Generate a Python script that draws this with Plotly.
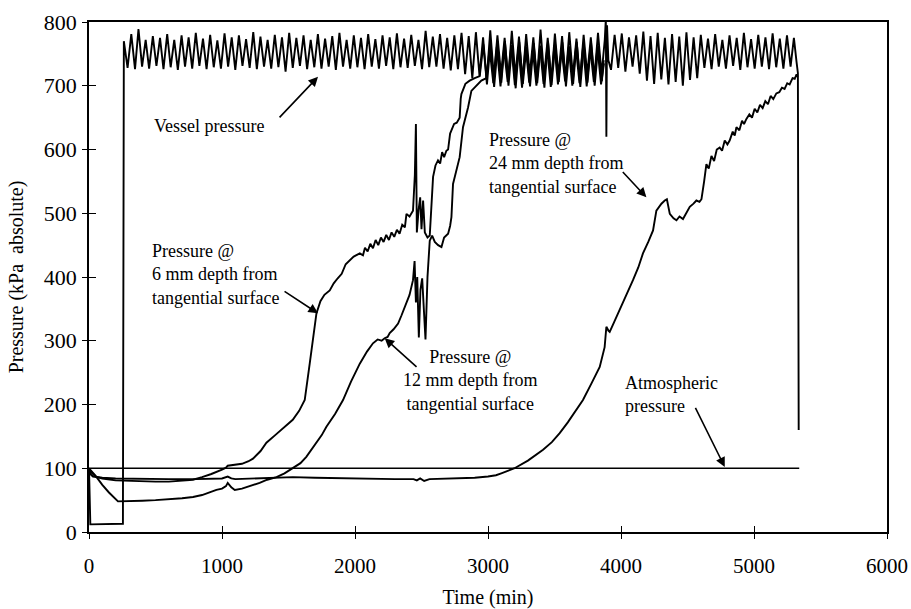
import plotly.graph_objects as go

# ---------------- data (time in min, pressure in kPa absolute) ----------------
vessel_t = [0, 10, 255, 262,
            290, 318, 346, 372, 399, 426, 452, 480, 507, 534, 560, 588, 614, 641, 668, 696,
            722, 749, 776, 803, 830, 857, 884, 911, 938, 965, 992, 1019, 1046, 1073, 1100,
            1127, 1154, 1181, 1208, 1235, 1262, 1289, 1316, 1343, 1370, 1397, 1424, 1451,
            1478, 1505, 1532, 1559, 1586, 1613, 1640, 1667, 1694, 1721, 1748, 1775, 1802,
            1829, 1856, 1883, 1910, 1937, 1964, 1991, 2018, 2045, 2072, 2099, 2126, 2153,
            2180, 2207, 2234, 2261, 2288, 2315, 2342, 2369, 2396, 2423, 2450, 2477, 2504,
            2531, 2558, 2585, 2612, 2639, 2666, 2693, 2720, 2747, 2774, 2801,
            2828, 2855, 2882, 2909, 2936, 2963, 2990, 3017, 3044, 3071, 3098, 3125, 3152,
            3179, 3206, 3233, 3260, 3287, 3314, 3341, 3368, 3395, 3422, 3449, 3476, 3503,
            3530, 3557, 3584, 3611, 3638, 3665, 3692, 3719, 3746, 3773, 3800, 3827, 3854,
            3878, 3886, 3890, 3895, 3905, 3925, 3952, 3979, 4006, 4033, 4060, 4087, 4114,
            4141, 4168, 4195, 4222, 4249, 4276, 4303, 4330, 4357, 4384, 4411, 4438, 4465,
            4492, 4519, 4546, 4573, 4600, 4627, 4654, 4681, 4708, 4735, 4762, 4789, 4816,
            4843, 4870, 4897, 4924, 4951, 4978, 5005, 5032, 5059, 5086, 5113, 5140, 5167,
            5194, 5221, 5248, 5275, 5300, 5320, 5330, 5336]
vessel_p = [100, 12, 13, 770,
            728, 781, 726, 789, 730, 772, 727, 778, 731, 775, 726, 781, 729, 772, 725, 779,
            730, 776, 727, 783, 731, 774, 726, 780, 729, 771, 727, 782, 730, 776, 725,
            779, 731, 773, 728, 784, 726, 777, 730, 772, 727, 780, 729, 776,
            722, 783, 728, 775, 731, 779, 726, 772, 729, 781, 727, 774, 730,
            778, 725, 783, 730, 772, 727, 779, 729, 775, 726, 781, 730, 773,
            727, 779, 731, 776, 726, 782, 729, 774, 728, 780, 731, 772, 726,
            786, 729, 777, 730, 781, 727, 775, 724, 779, 726, 783,
            718, 778, 712, 784, 716, 776, 709, 787, 714, 779, 718, 775, 711,
            786, 715, 777, 708, 781, 717, 776, 710, 788, 714, 775, 707, 782,
            716, 778, 710, 784, 715, 774, 709, 780, 717, 776, 712, 783, 718,
            772, 805, 620, 795, 740, 725, 780, 728, 782, 722, 776, 730, 779,
            719, 785, 708, 778, 703, 783, 710, 775, 702, 781, 706, 777, 700,
            784, 709, 776, 712, 780, 728, 774, 726, 781, 730, 772, 727, 779,
            731, 775, 725, 783, 729, 773, 727, 780, 730, 776, 726, 782, 729,
            774, 727, 779, 730, 775, 737, 720, 160]

d6_t = [0, 20, 50, 100, 200, 300, 400, 500, 600, 700, 782, 850, 920, 1000, 1030, 1043,
        1100, 1150, 1200, 1233, 1290, 1334, 1400, 1470, 1532, 1580, 1622, 1660, 1690,
        1710, 1740, 1770, 1810, 1840, 1870, 1900, 1930, 1960, 1990, 2036, 2060, 2075,
        2095, 2115, 2135, 2155, 2175, 2195, 2215, 2235, 2255, 2275, 2295, 2315, 2335,
        2355, 2375, 2387, 2410, 2436, 2450, 2458, 2465, 2478, 2490, 2500, 2512, 2525,
        2545, 2562, 2575, 2587, 2605, 2624, 2640, 2655, 2670, 2687, 2700, 2715, 2725,
        2745, 2765, 2787, 2795, 2800, 2830, 2862, 2900, 2938,
        2965, 2992, 3019, 3046, 3073, 3100, 3127, 3154, 3181, 3208, 3235, 3262, 3289,
        3316, 3343, 3370, 3397, 3424, 3451, 3478, 3505, 3532, 3559, 3586, 3613, 3640,
        3667, 3694, 3721, 3748, 3775, 3802, 3829, 3856, 3870]
d6_p = [100, 93, 87, 84, 81, 80, 79, 79, 79, 80, 82, 86, 91, 98, 101, 104,
        105, 107, 111, 115, 127, 140, 152, 165, 176, 190, 207, 265, 315,
        343, 362, 372, 379, 390, 398, 405, 420, 426, 432, 437, 434, 446,
        440, 452, 445, 458, 450, 462, 455, 466, 458, 470, 463, 474, 468,
        482, 478, 499, 495, 504, 560, 640, 470, 505, 525, 475, 520, 470,
        462, 465, 520, 557, 575, 583, 578, 596, 588, 598, 600, 625, 630,
        640, 642, 650, 680, 687, 703, 708, 712, 715,
        765, 702, 768, 698, 762, 705, 770, 700, 764, 696, 769, 703, 761,
        699, 767, 704, 763, 697, 770, 701, 765, 706, 768, 699, 762, 703,
        769, 698, 764, 705, 767, 700, 763, 707, 740]

d12_t = [0, 50, 100, 150, 218, 300, 400, 500, 600, 700, 782, 850, 958, 1000, 1030,
         1043, 1070, 1096, 1150, 1200, 1283, 1340, 1410, 1470, 1532, 1590, 1634, 1670,
         1710, 1750, 1785, 1850, 1910, 1970, 2036, 2090, 2135, 2170, 2200, 2223, 2245,
         2261, 2290, 2324, 2350, 2387, 2410, 2436, 2448, 2458, 2468, 2480, 2492, 2505,
         2518, 2530, 2545, 2562, 2580, 2600, 2625, 2650, 2670, 2700, 2715, 2725, 2737,
         2760, 2787, 2812, 2830, 2850, 2875, 2910, 2950, 2988,
         3012, 3040, 3066, 3094, 3120, 3148, 3175, 3202, 3229, 3256, 3283, 3310, 3337,
         3364, 3391, 3418, 3445, 3472, 3499, 3526, 3553, 3580, 3607, 3634, 3661, 3688,
         3715, 3742, 3769, 3796, 3823, 3850, 3872]
d12_p = [100, 88, 74, 62, 48, 48, 49, 50, 51, 53, 55, 58, 66, 68, 72,
         77, 70, 66, 68, 71, 77, 82, 86, 92, 100, 108, 118, 128,
         140, 152, 165, 185, 207, 236, 264, 283, 296, 302, 300, 304, 306,
         312, 318, 327, 340, 358, 372, 395, 425, 360, 400, 305, 380, 398,
         340, 302, 400, 457, 465, 455, 450, 447, 462, 468, 480, 494, 546,
         566, 588, 635, 650, 666, 692, 700, 708, 712,
         758, 704, 761, 699, 757, 706, 763, 701, 759, 697, 762, 705, 756,
         700, 760, 703, 758, 698, 763, 702, 757, 707, 761, 700, 759, 704,
         762, 699, 758, 706, 760, 702, 735]

d24_t = [0, 15, 30, 60, 100, 200, 400, 600, 800, 1000, 1043, 1070, 1100, 1300, 1532,
         1700, 1900, 2100, 2300, 2440, 2465, 2490, 2520, 2560, 2700, 2900, 3000, 3060,
         3100, 3150, 3200, 3300, 3414, 3480, 3539, 3600, 3665, 3714, 3780, 3840, 3877,
         3890, 3905, 3915, 3950, 3990, 4040, 4090, 4130, 4165, 4205, 4241, 4266, 4290,
         4304, 4329, 4345, 4367, 4395, 4417, 4440, 4466, 4490, 4517, 4545, 4567, 4590,
         4605, 4625, 4642, 4660, 4680, 4700, 4720, 4742, 4760, 4780, 4800, 4817, 4840,
         4855, 4868, 4890, 4910, 4925, 4943, 4965, 4985, 5005, 5025, 5045, 5065, 5085,
         5105, 5125, 5145, 5168, 5190, 5210, 5230, 5250, 5268, 5290, 5306, 5320, 5328]
d24_p = [100, 90, 87, 86, 85, 84, 83, 83, 83, 84, 87, 84, 83, 84, 86,
         85, 84, 83, 83, 83, 81, 84, 80, 83, 84, 85, 87, 89,
         92, 96, 100, 112, 129, 141, 155, 172, 191, 207, 234, 259, 290,
         322, 316, 314, 330, 348, 372, 395, 415, 437, 455, 473, 504, 512,
         515, 520, 522, 499, 492, 489, 495, 491, 500, 510, 515, 520, 518,
         522, 550, 577, 570, 590, 582, 600, 603, 598, 614, 608, 614, 628,
         622, 635, 630, 645, 640, 648, 655, 650, 664, 658, 670, 665, 676,
         671, 684, 679, 688, 690, 697, 695, 704, 702, 712, 711, 718, 714]

atm_t = [0, 5340]
atm_p = [100, 100]

x_ticks = [0, 1000, 2000, 3000, 4000, 5000, 6000]
y_ticks = [0, 100, 200, 300, 400, 500, 600, 700, 800]

FONT = "Liberation Serif, Times New Roman, serif"
line_style = dict(color="black", width=1.9)

fig = go.Figure()
for t, p, nm in [(vessel_t, vessel_p, "Vessel pressure"),
                 (d6_t, d6_p, "6 mm"),
                 (d12_t, d12_p, "12 mm"),
                 (d24_t, d24_p, "24 mm")]:
    fig.add_trace(go.Scatter(x=t, y=p, mode="lines", name=nm, line=line_style,
                             showlegend=False, hoverinfo="skip"))
# atmospheric line on the overlay axes (same ranges) that carry the inner tick marks
fig.add_trace(go.Scatter(x=atm_t, y=atm_p, mode="lines", name="Atmospheric",
                         line=dict(color="black", width=1.7), showlegend=False,
                         xaxis="x2", yaxis="y2", hoverinfo="skip"))

axis_common = dict(showgrid=False, zeroline=False, showline=True, linecolor="black",
                   linewidth=1.6, mirror=True, ticks="outside", ticklen=5,
                   tickwidth=1.4, tickcolor="black", automargin=False)

fig.update_layout(
    width=911, height=609,
    margin=dict(l=89, r=24, t=22, b=77),
    paper_bgcolor="white", plot_bgcolor="white",
    font=dict(family=FONT, color="black"),
    xaxis=dict(range=[0, 6000], tickvals=x_ticks, ticklabelstandoff=9,
               tickfont=dict(family=FONT, size=21, color="black"),
               title=dict(text="Time (min)", font=dict(family=FONT, size=20), standoff=14),
               **axis_common),
    yaxis=dict(range=[0, 800], tickvals=y_ticks, ticklabelstandoff=1,
               tickfont=dict(family=FONT, size=22, color="black"),
               title=dict(text="Pressure (kPa  absolute)", font=dict(family=FONT, size=20),
                          standoff=15),
               **axis_common),
    xaxis2=dict(range=[0, 6000], tickvals=x_ticks, overlaying="x", anchor="y2",
                showgrid=False, zeroline=False, showline=False, ticks="inside",
                ticklen=6, tickwidth=1.4, tickcolor="black", showticklabels=False,
                automargin=False),
    yaxis2=dict(range=[0, 800], tickvals=y_ticks, overlaying="y", anchor="x2",
                showgrid=False, zeroline=False, showline=False, ticks="inside",
                ticklen=7, tickwidth=1.4, tickcolor="black", showticklabels=False,
                automargin=False),
)

ann_font = dict(family=FONT, size=18, color="black")

# text labels
labels = [
    (477, 637, "Vessel pressure", "left"),
    (456, 404, "Pressure @<br>6 mm depth from<br>tangential surface", "left"),
    (2862, 237, "Pressure @<br>12 mm depth from<br>tangential surface", "center"),
    (2993, 578, "Pressure @<br>24 mm depth from<br>tangential surface", "left"),
    (4015, 215, "Atmospheric<br>pressure", "left"),
]
for x, y, txt, al in labels:
    fig.add_annotation(x=x, y=y, text=txt, showarrow=False, xanchor=al, yanchor="middle",
                       align=al, font=ann_font)

# pointer arrows: (head x, head y, tail x, tail y)
arrows = [
    (1722, 714, 1422, 648),
    (1722, 343, 1459, 379),
    (2223, 304, 2474, 257),
    (4191, 525, 4003, 567),
    (4780, 102, 4554, 197),
]
for hx, hy, tx, ty in arrows:
    fig.add_annotation(x=hx, y=hy, ax=tx, ay=ty, axref="x", ayref="y", text="",
                       showarrow=True, arrowhead=2, arrowsize=1.2, arrowwidth=1.6,
                       arrowcolor="black")

fig.write_html("out.html")
